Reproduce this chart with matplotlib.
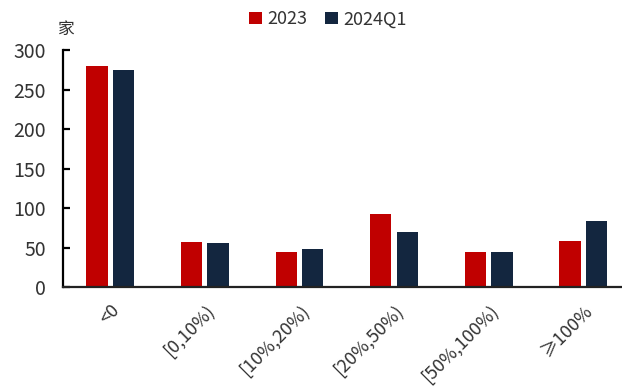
import matplotlib
matplotlib.use("Agg")
import matplotlib.pyplot as plt
import numpy as np

plt.rcParams['font.family'] = ['Noto Sans CJK SC', 'DejaVu Sans']
plt.rcParams['font.weight'] = 'light'

categories = ["<0", "[0,10%)", "[10%,20%)", "[20%,50%)", "[50%,100%)", "≥100%"]
series_names = ["2023", "2024Q1"]
values_2023 = [280, 57, 44, 93, 45, 58]
values_2024q1 = [275, 56, 48, 70, 44, 84]
y_ticks = [0, 50, 100, 150, 200, 250, 300]
unit_label = "家"

colors = ["#C00000", "#13263F"]
text_color = "#333333"

fig = plt.figure(figsize=(6.22, 3.89), dpi=100)
ax = fig.add_axes([0.101, 0.262, 0.913, 0.6095])

x = np.arange(len(categories))
w = 0.225
off = 0.14
ax.bar(x - off, values_2023, width=w, color=colors[0], label=series_names[0])
ax.bar(x + off, values_2024q1, width=w, color=colors[1], label=series_names[1])

ax.set_xlim(-0.5, len(categories) - 0.5)
ax.set_ylim(0, 300)
ax.set_yticks(y_ticks)
ax.set_xticks(x)
ax.set_xticklabels(categories, rotation=45, ha="right", rotation_mode="anchor",
                   fontsize=13, color=text_color)

for s in ["top", "right"]:
    ax.spines[s].set_visible(False)
ax.spines["left"].set_linewidth(1.6)
ax.spines["left"].set_color("black")
ax.spines["bottom"].set_linewidth(1.6)
ax.spines["bottom"].set_color("#222222")

ax.tick_params(axis="y", direction="in", length=5, width=1.6, labelsize=14,
               labelcolor=text_color, pad=12)
ax.tick_params(axis="x", length=0, pad=10)

fig.text(0.107, 0.925, unit_label, fontsize=12, color=text_color, ha="center", va="center")

leg = fig.legend(loc="center", bbox_to_anchor=(0.527, 0.95), ncol=2, frameon=False,
                 fontsize=13, handlelength=0.7, handleheight=0.7, handletextpad=0.3,
                 columnspacing=1.0, labelcolor=text_color)

fig.savefig("out.png", dpi=100)
